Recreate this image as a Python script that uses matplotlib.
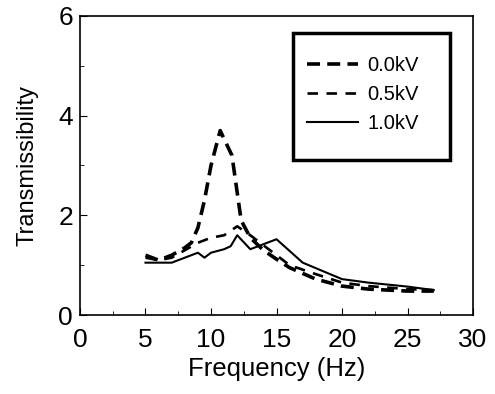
import matplotlib.pyplot as plt
from matplotlib.patches import Rectangle
from matplotlib.ticker import MultipleLocator

plt.rcParams['font.family'] = ['Liberation Sans', 'DejaVu Sans']

# ----------------------------
# Data
# ----------------------------
x_00 = [5, 6, 7, 8, 8.5, 9, 9.5, 10, 10.7, 11.6, 12.3, 13, 14, 15, 16, 18, 20, 22, 25, 27]
y_00 = [1.2, 1.1, 1.2, 1.35, 1.45, 1.75, 2.3, 3.0, 3.7, 3.2, 1.9, 1.55, 1.3, 1.12, 0.95, 0.72, 0.58, 0.52, 0.48, 0.48]

x_05 = [5, 6, 7, 8, 9, 10, 11, 12, 13, 14, 15, 16, 18, 20, 22, 25, 27]
y_05 = [1.15, 1.1, 1.15, 1.3, 1.45, 1.55, 1.6, 1.78, 1.6, 1.4, 1.2, 1.0, 0.82, 0.65, 0.58, 0.52, 0.5]

x_10 = [5, 6, 7, 8, 9, 9.5, 10, 11, 11.5, 12, 13, 14, 15, 17, 20, 22, 25, 27]
y_10 = [1.05, 1.05, 1.05, 1.15, 1.25, 1.15, 1.25, 1.32, 1.38, 1.6, 1.32, 1.42, 1.52, 1.05, 0.72, 0.65, 0.57, 0.5]

labels = ["0.0kV", "0.5kV", "1.0kV"]

# ----------------------------
# Plot
# ----------------------------
fig = plt.figure(figsize=(4.95, 3.94), dpi=100)
ax = fig.add_axes([0.1616, 0.2005, 0.794, 0.759])

ax.plot(x_00, y_00, color="black", lw=2.6, ls=(0, (3.6, 2.0)), label=labels[0])
ax.plot(x_05, y_05, color="black", lw=1.9, ls=(0, (4.0, 3.2)), label=labels[1])
ax.plot(x_10, y_10, color="black", lw=1.5, ls="-", label=labels[2])

ax.set_xlim(0, 30)
ax.set_ylim(0, 6)
ax.xaxis.set_major_locator(MultipleLocator(5))
ax.xaxis.set_minor_locator(MultipleLocator(2.5))
ax.yaxis.set_major_locator(MultipleLocator(2))
ax.yaxis.set_minor_locator(MultipleLocator(1))
ax.tick_params(which="both", direction="in", labelsize=19)
ax.tick_params(which="major", length=5)
ax.tick_params(which="minor", length=3)
ax.tick_params(axis="x", pad=9)
ax.tick_params(axis="y", pad=5)

for s in ax.spines.values():
    s.set_linewidth(1.2)

ax.set_xlabel("Frequency (Hz)", fontsize=18.5, labelpad=4)
ax.set_ylabel("Transmissibility", fontsize=17, labelpad=14)

# legend box drawn separately (extra vertical padding in the original)
ax.add_patch(Rectangle((0.542, 0.518), 0.399, 0.425, transform=ax.transAxes,
                       fill=False, edgecolor="black", lw=2.5, zorder=5))
ax.legend(loc="center left", bbox_to_anchor=(0.578, 0.736), fontsize=14.5,
          frameon=False, handlelength=2.5, handletextpad=0.5,
          labelspacing=0.5, borderpad=0, borderaxespad=0)

plt.savefig("out.png", dpi=100)
